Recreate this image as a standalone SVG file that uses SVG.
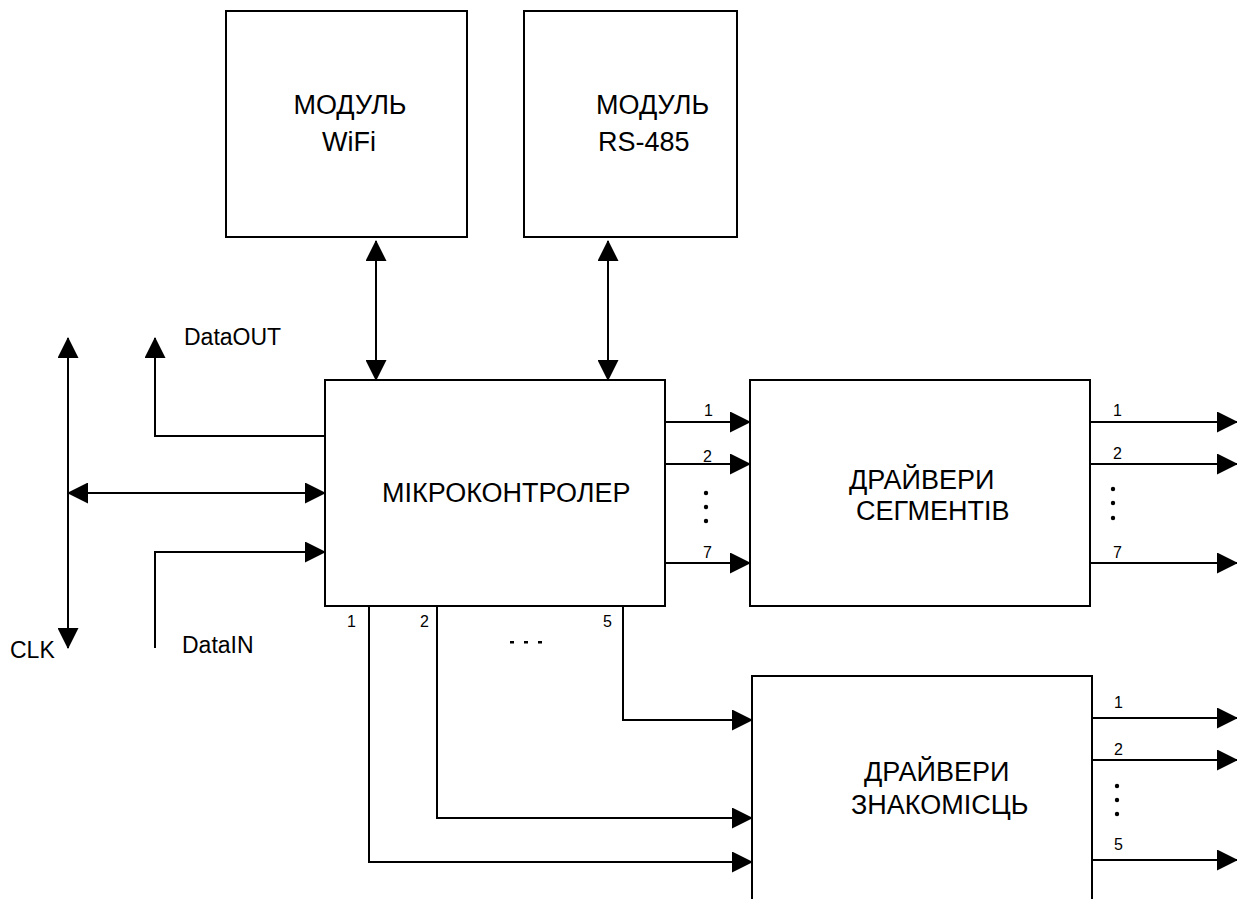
<svg xmlns="http://www.w3.org/2000/svg" width="1237" height="899" viewBox="0 0 1237 899">
<style>
.box{fill:#fff;stroke:#000;stroke-width:2}
.ln{fill:none;stroke:#000;stroke-width:2}
.big{font-family:"Liberation Sans",Arial,sans-serif;font-size:27px;fill:#000}
.mid{font-family:"Liberation Sans",Arial,sans-serif;font-size:23px;fill:#000}
.sm{font-family:"Liberation Sans",Arial,sans-serif;font-size:16px;fill:#000}
.dot{fill:#000}
</style>
<defs>
<marker id="ah" markerUnits="userSpaceOnUse" markerWidth="21" markerHeight="21" refX="20" refY="10.5" orient="auto-start-reverse" viewBox="0 0 21 21">
<path d="M0,0 L21,10.5 L0,21 z" fill="#000"/>
</marker>
</defs>
<rect width="1237" height="899" fill="#fff"/>
<g id="wifi">
<rect class="box" x="226" y="11" width="241" height="226"/>
<text class="big" x="350" y="114" text-anchor="middle">МОДУЛЬ</text>
<text class="big" x="349" y="151" text-anchor="middle">WiFi</text>
</g>
<g id="rs485">
<rect class="box" x="524" y="11" width="213" height="226"/>
<text class="big" x="596" y="114">МОДУЛЬ</text>
<text class="big" x="598" y="151">RS-485</text>
</g>
<g id="mcu">
<rect class="box" x="325" y="380" width="340" height="226"/>
<text class="big" x="382" y="502">МІКРОКОНТРОЛЕР</text>
</g>
<g id="seg">
<rect class="box" x="750" y="380" width="340" height="226"/>
<text class="big" x="849" y="489">ДРАЙВЕРИ</text>
<text class="big" x="856" y="520">СЕГМЕНТІВ</text>
</g>
<g id="dig">
<path class="ln" d="M752,899 V676 H1092 V899"/>
<text class="big" x="864" y="781">ДРАЙВЕРИ</text>
<text class="big" x="851" y="814">ЗНАКОМІСЦЬ</text>
</g>
<g id="connectors">
<line class="ln" x1="376" y1="241" x2="376" y2="380" marker-start="url(#ah)" marker-end="url(#ah)"/>
<line class="ln" x1="608" y1="241" x2="608" y2="380" marker-start="url(#ah)" marker-end="url(#ah)"/>
<line class="ln" x1="68" y1="338" x2="68" y2="648" marker-start="url(#ah)" marker-end="url(#ah)"/>
<polyline class="ln" points="325,436 155,436 155,338" marker-end="url(#ah)"/>
<line class="ln" x1="68" y1="493" x2="325" y2="493" marker-start="url(#ah)" marker-end="url(#ah)"/>
<polyline class="ln" points="155,648 155,552 325,552" marker-end="url(#ah)"/>
<line class="ln" x1="665" y1="422" x2="750" y2="422" marker-end="url(#ah)"/>
<line class="ln" x1="665" y1="464" x2="750" y2="464" marker-end="url(#ah)"/>
<line class="ln" x1="665" y1="563" x2="750" y2="563" marker-end="url(#ah)"/>
<line class="ln" x1="1090" y1="422" x2="1237" y2="422" marker-end="url(#ah)"/>
<line class="ln" x1="1090" y1="464" x2="1237" y2="464" marker-end="url(#ah)"/>
<line class="ln" x1="1090" y1="563" x2="1237" y2="563" marker-end="url(#ah)"/>
<polyline class="ln" points="369,606 369,862 752,862" marker-end="url(#ah)"/>
<polyline class="ln" points="437,606 437,818 752,818" marker-end="url(#ah)"/>
<polyline class="ln" points="623,606 623,720 752,720" marker-end="url(#ah)"/>
<line class="ln" x1="1092" y1="718" x2="1237" y2="718" marker-end="url(#ah)"/>
<line class="ln" x1="1092" y1="760" x2="1237" y2="760" marker-end="url(#ah)"/>
<line class="ln" x1="1092" y1="860" x2="1237" y2="860" marker-end="url(#ah)"/>
</g>
<g id="labels">
<text class="mid" x="184" y="345">DataOUT</text>
<text class="mid" x="10" y="658">CLK</text>
<text class="mid" x="182" y="653">DataIN</text>
<text class="sm" x="704" y="416">1</text>
<text class="sm" x="703" y="462">2</text>
<text class="sm" x="703" y="558">7</text>
<text class="sm" x="1113" y="416">1</text>
<text class="sm" x="1113" y="459">2</text>
<text class="sm" x="1113" y="558">7</text>
<text class="sm" x="1114" y="708">1</text>
<text class="sm" x="1114" y="755">2</text>
<text class="sm" x="1114" y="850">5</text>
<text class="sm" x="347" y="627">1</text>
<text class="sm" x="420" y="627">2</text>
<text class="sm" x="603" y="627">5</text>
</g>
<g id="ellipses">
<circle class="dot" cx="706" cy="493" r="2.2"/>
<circle class="dot" cx="706" cy="507" r="2.2"/>
<circle class="dot" cx="706" cy="521" r="2.2"/>
<circle class="dot" cx="1113" cy="489" r="2.2"/>
<circle class="dot" cx="1113" cy="503" r="2.2"/>
<circle class="dot" cx="1113" cy="518" r="2.2"/>
<circle class="dot" cx="1117" cy="786" r="2.2"/>
<circle class="dot" cx="1117" cy="800" r="2.2"/>
<circle class="dot" cx="1117" cy="814" r="2.2"/>
<rect class="dot" x="510" y="641" width="4" height="2.5"/>
<rect class="dot" x="524" y="641" width="4" height="2.5"/>
<rect class="dot" x="538" y="641" width="4" height="2.5"/>
</g>
</svg>
